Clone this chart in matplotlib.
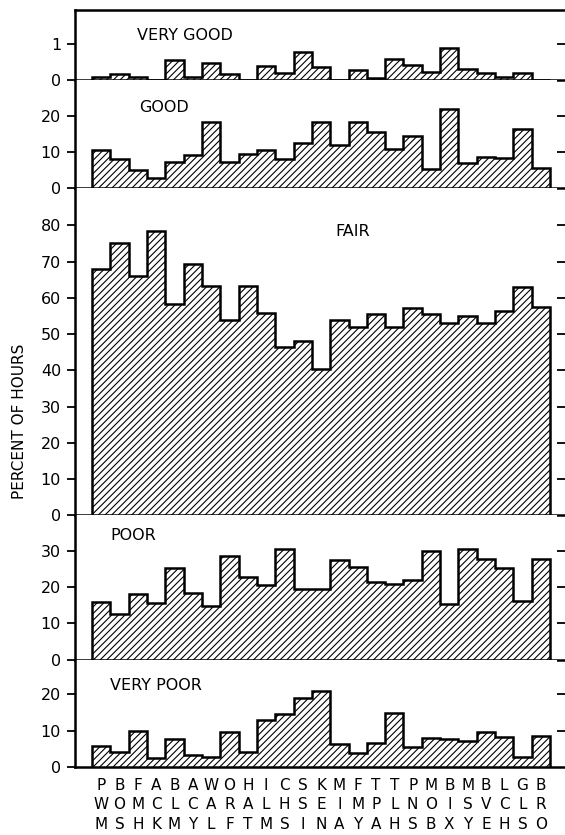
import matplotlib
matplotlib.use('Agg')
import matplotlib.pyplot as plt
import numpy as np

plt.rcParams['font.family'] = 'DejaVu Sans'
plt.rcParams['hatch.linewidth'] = 0.8

# station codes, one per bar (three letters stacked)
stations = ['PWM', 'BOS', 'FMH', 'ACK', 'BLM', 'ACY', 'WAL', 'ORF', 'HAT', 'ILM',
            'CHS', 'SSI', 'KEN', 'MIA', 'FMY', 'TPA', 'TLH', 'PNS', 'MOB', 'BIX',
            'MSY', 'BVE', 'LCH', 'GLS', 'BRO']

very_good = [0.07, 0.17, 0.07, 0.0, 0.56, 0.07, 0.48, 0.17, 0.0, 0.38,
             0.20, 0.78, 0.36, 0.0, 0.28, 0.06, 0.58, 0.42, 0.21, 0.88,
             0.31, 0.19, 0.07, 0.19, 0.0]
good = [10.4, 8.0, 5.1, 2.8, 7.2, 9.2, 18.2, 7.3, 9.4, 10.4,
        7.9, 12.5, 18.3, 11.8, 18.3, 15.5, 10.7, 14.3, 5.3, 21.7,
        6.8, 8.5, 8.2, 16.4, 5.6]
fair = [67.9, 75.2, 66.0, 78.5, 58.3, 69.3, 63.4, 54.0, 63.3, 55.8,
        46.5, 48.0, 40.5, 53.9, 51.9, 55.5, 52.1, 57.2, 55.5, 53.1,
        55.1, 53.1, 56.4, 63.1, 57.4]
poor = [15.8, 12.6, 18.1, 15.5, 25.3, 18.3, 14.7, 28.6, 22.8, 20.6,
        30.5, 19.4, 19.4, 27.4, 25.6, 21.4, 20.9, 22.1, 30.1, 15.3,
        30.4, 27.8, 25.3, 16.2, 27.7]
very_poor = [5.9, 4.0, 9.9, 2.4, 7.6, 3.2, 2.8, 9.7, 4.1, 13.1,
             14.7, 19.0, 20.9, 6.4, 3.8, 6.6, 15.0, 5.4, 8.0, 7.6,
             7.1, 9.7, 8.4, 2.8, 8.6]

panels = [
    ('VERY GOOD', very_good, 1.93, [0, 1]),
    ('GOOD', good, 29.8, [0, 10, 20]),
    ('FAIR', fair, 90.3, [0, 10, 20, 30, 40, 50, 60, 70, 80]),
    ('POOR', poor, 39.8, [0, 10, 20, 30]),
    ('VERY POOR', very_poor, 29.6, [0, 10, 20]),
]
# panel title positions (figure pixels, left edge / centre)
title_pos = [(137, 35), (139, 108), (335, 232), (110, 535), (110, 686)]

W, H = 565, 835
fig = plt.figure(figsize=(W / 100, H / 100), dpi=100)
ratios = [p[2] * (10 if i == 0 else 1) for i, p in enumerate(panels)]
gs = fig.add_gridspec(5, 1, height_ratios=ratios, hspace=0,
                      left=75 / W, right=557 / W, top=1 - 10 / H, bottom=1 - 767 / H)

x = np.arange(len(stations))
edges = np.arange(len(stations) + 1) - 0.5

axes = []
for i, (name, vals, ytop, ticks) in enumerate(panels):
    ax = fig.add_subplot(gs[i])
    axes.append(ax)
    ax.bar(x, vals, width=1.0, color='white', edgecolor='black', linewidth=0,
           hatch='/////')
    ax.stairs(vals, edges, baseline=0, color='black', lw=1.8)
    ax.set_xlim(-1.43, 24.88)
    ax.set_ylim(0, ytop)
    ax.set_yticks(ticks)
    ax.set_yticklabels([str(t) for t in ticks], fontsize=11.5)
    ax.tick_params(axis='y', which='both', left=True, right=True, direction='out',
                   length=6, width=1.3, pad=4)
    # zero tick on the right sits on the divider line, hide it
    ax.yaxis.get_major_ticks()[0].tick2line.set_visible(False)
    for s in ['left', 'bottom', 'top']:
        ax.spines[s].set_linewidth(1.8)
    # horizontal rules run on to the right edge of the page
    ax.spines['bottom'].set_bounds(-1.43, 25.35)
    ax.spines['top'].set_bounds(-1.43, 25.35)
    ax.spines['right'].set_visible(False)
    if i > 0:
        ax.spines['top'].set_visible(False)
    ax.set_xticks([])
    tx, ty = title_pos[i]
    fig.text(tx / W, 1 - ty / H, name, fontsize=11.5, ha='left', va='center')

bottom_ax = axes[-1]
bottom_ax.set_xticks(x)
bottom_ax.set_xticklabels(['\n'.join(s) for s in stations], fontsize=11,
                          linespacing=1.35)
bottom_ax.tick_params(axis='x', length=0, pad=8)

fig.text(20 / W, 1 - 421 / H, 'PERCENT OF HOURS', rotation=90, fontsize=11,
         ha='center', va='center')

fig.savefig('out.png', dpi=100)
